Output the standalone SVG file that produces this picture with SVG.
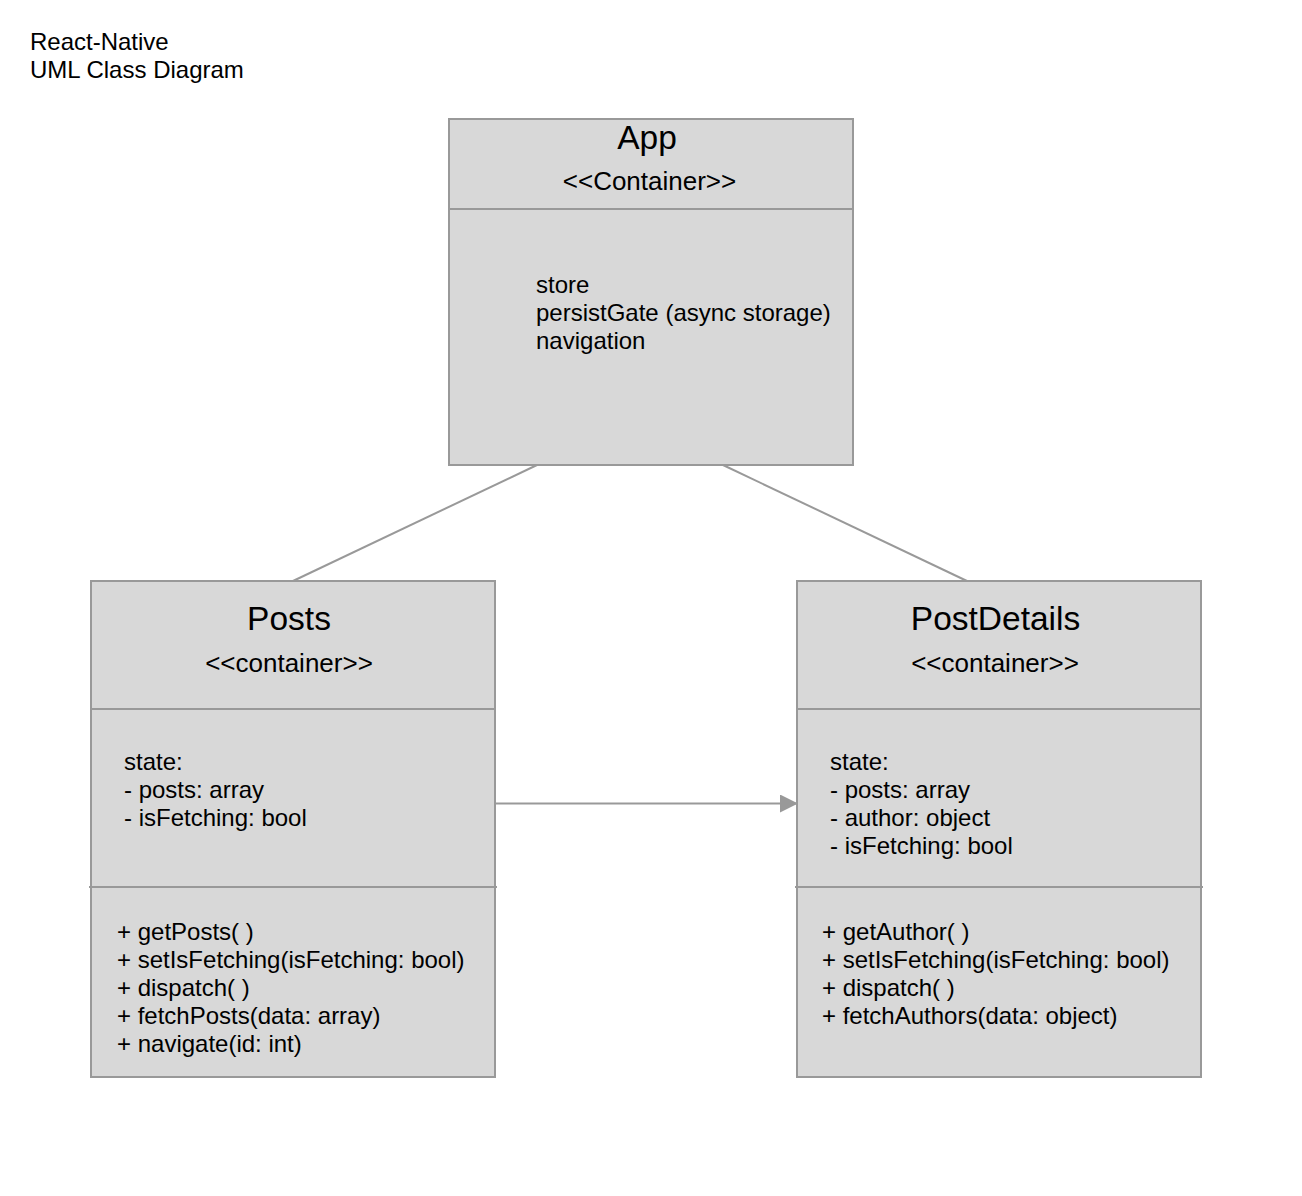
<svg xmlns="http://www.w3.org/2000/svg" width="1302" height="1196" viewBox="0 0 1302 1196">
<style>
text{font-family:"Liberation Sans",Arial,Helvetica,sans-serif;fill:#000}
.box{fill:#d8d8d8;stroke:#999;stroke-width:2}
.div{stroke:#999;stroke-width:2;fill:none}
.title{font-size:33.5px;text-anchor:middle}
.stereo{font-size:26px;text-anchor:middle}
.body{font-size:24px}
.conn{stroke:#999;stroke-width:2;fill:none}
.cap{font-size:24px}
</style>
<defs>
<marker id="arr" markerWidth="18" markerHeight="18" refX="17" refY="9" orient="auto" markerUnits="userSpaceOnUse">
<path d="M0,0 L18,9 L0,18 Z" fill="#999"/>
</marker>
</defs>
<rect width="1302" height="1196" fill="#fff"/>
<g id="caption">
<text class="cap" x="30" y="50">React-Native</text>
<text class="cap" x="30" y="78">UML Class Diagram</text>
</g>
<g id="connectors">
<line class="conn" x1="537" y1="465" x2="293" y2="581"/>
<line class="conn" x1="723" y1="465" x2="967" y2="581"/>
<line class="conn" x1="496" y1="803.5" x2="797" y2="803.5" marker-end="url(#arr)"/>
</g>
<g id="app">
<rect class="box" x="449" y="119" width="404" height="346"/>
<line class="div" x1="449" y1="209" x2="853" y2="209"/>
<text class="title" x="647" y="149">App</text>
<text class="stereo" x="649.5" y="190">&lt;&lt;Container&gt;&gt;</text>
<text class="body" x="536" y="293">store</text>
<text class="body" x="536" y="321">persistGate (async storage)</text>
<text class="body" x="536" y="349">navigation</text>
</g>
<g id="posts">
<rect class="box" x="91" y="581" width="404" height="496"/>
<line class="div" x1="91" y1="709" x2="495" y2="709"/>
<line class="div" x1="89" y1="887" x2="497" y2="887"/>
<text class="title" x="289" y="630">Posts</text>
<text class="stereo" x="289" y="672">&lt;&lt;container&gt;&gt;</text>
<text class="body" x="124" y="770">state:</text>
<text class="body" x="124" y="798">- posts: array</text>
<text class="body" x="124" y="826">- isFetching: bool</text>
<text class="body" x="117" y="940">+ getPosts( )</text>
<text class="body" x="117" y="968">+ setIsFetching(isFetching: bool)</text>
<text class="body" x="117" y="996">+ dispatch( )</text>
<text class="body" x="117" y="1024">+ fetchPosts(data: array)</text>
<text class="body" x="117" y="1052">+ navigate(id: int)</text>
</g>
<g id="postdetails">
<rect class="box" x="797" y="581" width="404" height="496"/>
<line class="div" x1="797" y1="709" x2="1201" y2="709"/>
<line class="div" x1="795" y1="887" x2="1203" y2="887"/>
<text class="title" x="995.5" y="630">PostDetails</text>
<text class="stereo" x="995" y="672">&lt;&lt;container&gt;&gt;</text>
<text class="body" x="830" y="770">state:</text>
<text class="body" x="830" y="798">- posts: array</text>
<text class="body" x="830" y="826">- author: object</text>
<text class="body" x="830" y="854">- isFetching: bool</text>
<text class="body" x="822" y="940">+ getAuthor( )</text>
<text class="body" x="822" y="968">+ setIsFetching(isFetching: bool)</text>
<text class="body" x="822" y="996">+ dispatch( )</text>
<text class="body" x="822" y="1024">+ fetchAuthors(data: object)</text>
</g>
</svg>
